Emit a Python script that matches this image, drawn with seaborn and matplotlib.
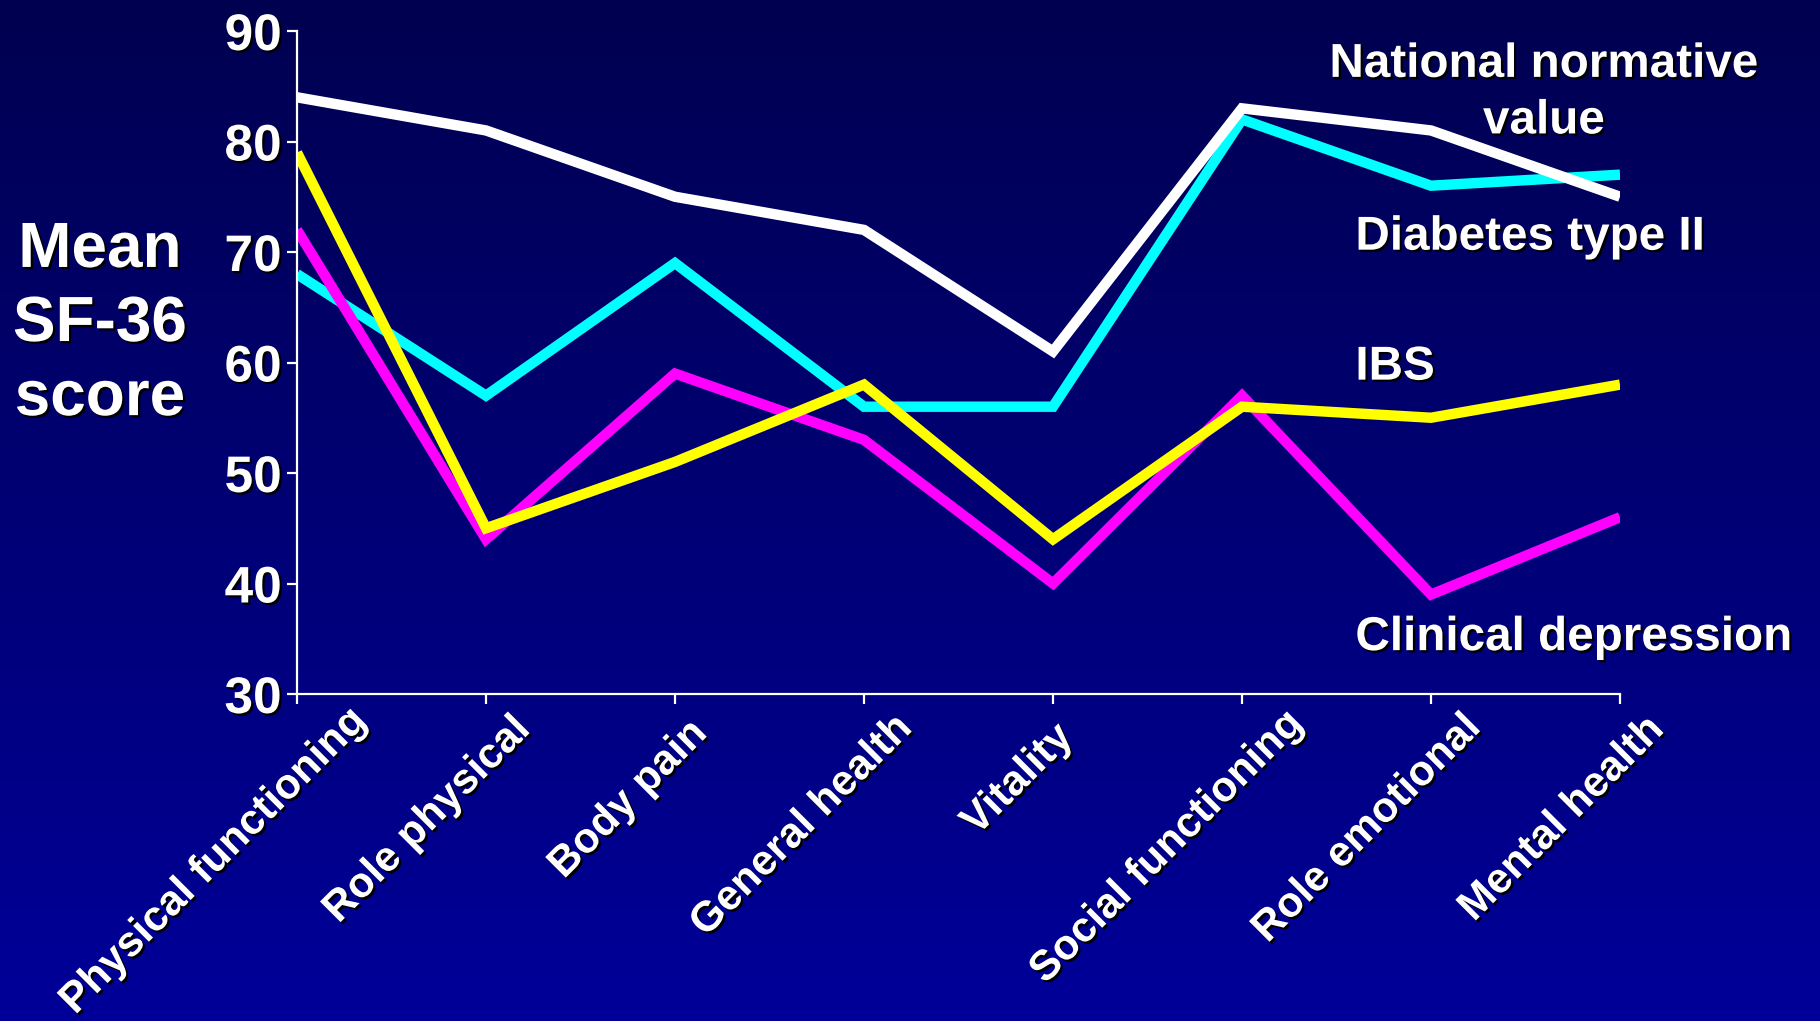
import numpy as np
import pandas as pd
import matplotlib
matplotlib.use("Agg")
import matplotlib.pyplot as plt
import matplotlib.patheffects as pe
import matplotlib.transforms as mtransforms
import seaborn as sns

# ---------------- data ----------------
categories = ["Physical functioning", "Role physical", "Body pain", "General health",
              "Vitality", "Social functioning", "Role emotional", "Mental health"]
diabetes = [68, 57, 69, 56, 56, 82, 76, 77]
depression = [72, 44, 59, 53, 40, 57, 39, 46]
ibs = [79, 45, 51, 58, 44, 56, 55, 58]
national = [84, 81, 75, 72, 61, 83, 81, 75]

series_names = ["Diabetes type II", "Clinical depression", "IBS", "National normative value"]
series_values = [diabetes, depression, ibs, national]
series_colors = ["#00FFFF", "#FF00FF", "#FFFF00", "#FFFFFF"]
y_ticks = [30, 40, 50, 60, 70, 80, 90]

df = pd.DataFrame({
    "category": categories * len(series_names),
    "pos": list(range(len(categories))) * len(series_names),
    "score": sum(series_values, []),
    "series": sum([[n] * len(categories) for n in series_names], []),
})

# ---------------- style ----------------
sns.set_theme(style="white")
plt.rcParams["font.family"] = ["Liberation Sans", "DejaVu Sans"]
plt.rcParams["font.weight"] = "bold"

W, H, DPI = 1820, 1021, 100
fig = plt.figure(figsize=(W / DPI, H / DPI), dpi=DPI)

# gradient background
bg = fig.add_axes([0, 0, 1, 1], zorder=-10)
grad = np.linspace(0, 1, 256)[:, None]
top = np.array([0, 0, 0x50]) / 255
bot = np.array([0, 0, 0x99]) / 255
img = top[None, None, :] * (1 - grad[:, :, None]) + bot[None, None, :] * grad[:, :, None]
bg.imshow(img, aspect="auto", extent=[0, 1, 0, 1], origin="upper")
bg.set_axis_off()

left, right = 297 / W, 1620 / W
bottom, topf = 1 - 694 / H, 1 - 31 / H
ax = fig.add_axes([left, bottom, right - left, topf - bottom])
ax.set_facecolor("none")

palette = dict(zip(series_names, series_colors))
sns.lineplot(data=df, x="pos", y="score", hue="series", hue_order=series_names,
             palette=palette, linewidth=7.5, sort=False, legend=False, ax=ax,
             solid_capstyle="butt", solid_joinstyle="miter")

ax.set_xlim(0, len(categories) - 1)
ax.set_ylim(30, 90)
ax.set_yticks(y_ticks)
ax.set_xticks(range(len(categories)))
ax.set_xticklabels([])
ax.set_xlabel("")
ax.set_ylabel("")

for s in ["top", "right"]:
    ax.spines[s].set_visible(False)
for s in ["left", "bottom"]:
    ax.spines[s].set_color("white")
    ax.spines[s].set_linewidth(1.6)

shadow = [pe.withSimplePatchShadow(offset=(1.6, -1.6), shadow_rgbFace="black", alpha=1.0)]

ax.tick_params(axis="y", direction="out", length=7, width=1.6, color="white",
               labelcolor="white", labelsize=37, pad=4, left=True)
ax.tick_params(axis="x", direction="out", length=7, width=1.6, color="white", bottom=True)
for lab in ax.get_yticklabels():
    lab.set_fontweight("bold")
    lab.set_path_effects(shadow)

# y-axis title
ax.set_ylabel("Mean\nSF-36\nscore", rotation=0, fontsize=46, fontweight="bold",
              color="white", ha="center", va="center", linespacing=1.3)
ax.yaxis.set_label_coords(-0.149, 0.558)
ax.yaxis.label.set_path_effects(shadow)

# rotated category labels
renderer = fig.canvas.get_renderer()
xlab_size = 30.5
base = mtransforms.blended_transform_factory(ax.transData, ax.transAxes)
for i, name in enumerate(categories):
    t = ax.text(i, 0, name, fontsize=xlab_size, fontweight="bold", color="white",
                rotation=45, rotation_mode="anchor", ha="right", va="top",
                clip_on=False, path_effects=shadow)
    w, h, d = renderer.get_text_width_height_descent(name, t.get_fontproperties(), ismath=False)
    dx = -25.0 + 0.18 * w
    dy = -(31.0 - 0.06 * w)
    t.set_transform(base + mtransforms.ScaledTranslation(dx / DPI, dy / DPI, fig.dpi_scale_trans))

# series labels
lab_kw = dict(fontsize=34.3, fontweight="bold", color="white", transform=ax.transAxes,
              path_effects=shadow, clip_on=False)
ax.text(0.9425, 0.907, "National normative\nvalue", ha="center", va="center",
        multialignment="center", linespacing=1.33, **lab_kw)
ax.text(0.800, 0.689, "Diabetes type II", ha="left", va="center", **lab_kw)
ax.text(0.800, 0.493, "IBS", ha="left", va="center", **lab_kw)
ax.text(0.800, 0.085, "Clinical depression", ha="left", va="center", **lab_kw)

fig.savefig("out.png", dpi=DPI)
